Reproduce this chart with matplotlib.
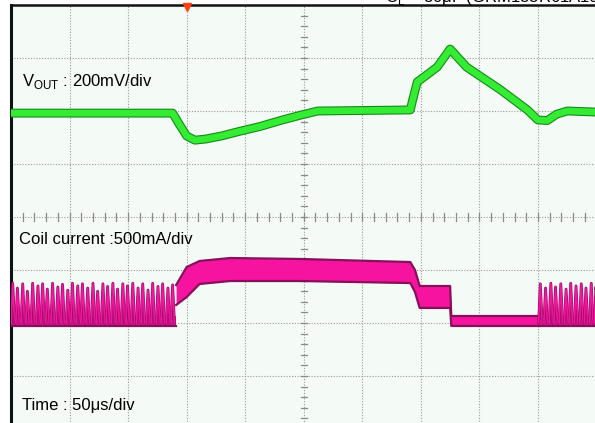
import matplotlib.pyplot as plt
import matplotlib.patheffects as pe

# scope settings
volt_per_div = 200     # mV/div
amp_per_div = 500      # mA/div
time_per_div = 50      # us/div
vout_offset = 1.96     # screen position of V_OUT zero, div
coil_offset = -2.0     # screen position of 0 mA, div

vout_t = [0, 138, 144, 150, 157, 166, 180, 194, 213, 230, 247, 262, 341, 343,
          347, 355, 364, 375, 389, 418, 441, 450, 458, 466, 475, 500]
vout_mv = [0, 0, -44, -86, -102, -98, -86, -70, -50, -28, -8, 8, 12, 50,
           118, 144, 174, 242, 174, 88, 12, -26, -28, -4, 8, 4]

# coil current ripple band (PWM part)
band_t = [141, 150, 161, 187, 247, 341, 345, 349, 375, 376, 451]
band_hi = [358, 528, 585, 613, 604, 575, 500, 349, 349, 66, 66]
band_lo = [170, 245, 368, 396, 396, 377, 292, 142, 142, -28, -28]

# PFM pulses before and after the load step
pulse_t = [1.5, 5.5, 10, 14, 18.5, 23, 27, 31, 35.5, 40, 44, 48.5, 52.5, 57,
           61, 65.5, 70, 74, 78.5, 82.5, 87, 91, 95.5, 99.5, 104, 108.5, 112.5,
           117, 121, 125.5, 129.5, 134, 138,
           452, 456.5, 461, 465, 469.5, 474, 478, 482.5, 487, 491, 495.5, 499.5]
pulse_pk = [375, 330, 370, 300, 375, 350, 370, 320, 375, 340, 365, 310, 375,
            350, 370, 330, 375, 300, 370, 345, 375, 320, 370, 350, 375, 330,
            370, 310, 375, 345, 370, 330, 360,
            370, 330, 375, 340, 370, 320, 375, 350, 370, 330, 375, 340]
pulse_base = [-28, 66]

green = '#33ec33'
green_dk = '#168a16'
pink = '#f5139f'
pink_dk = '#86105a'

fig = plt.figure(figsize=(5.95, 4.23), dpi=100, facecolor='white')
ax = fig.add_axes([11/595, -6/423, 585.5/595, 424/423], facecolor='#f4faf6')
ax.set_xlim(0, 10)
ax.set_ylim(-4, 4)
ax.set_xticks([])
ax.set_yticks([])
for s in ['right', 'bottom']:
    ax.spines[s].set_visible(False)
ax.spines['left'].set_linewidth(2.2)
ax.spines['left'].set_color('#111111')
ax.spines['top'].set_linewidth(1.8)
ax.spines['top'].set_color('#111111')

# graticule
for i in range(1, 10):
    ax.axvline(i, color='#9a9a9a', lw=0.8, ls=(0, (1, 1.5)), zorder=1)
for j in range(-3, 4):
    ax.axhline(j, color='#9a9a9a', lw=0.8, ls=(0, (1, 1.5)), zorder=1)
for k in range(1, 50):
    ax.plot([k/5, k/5], [-0.07, 0.07], color='#8a8a8a', lw=0.9, zorder=1)
for k in range(-19, 20):
    ax.plot([4.95, 5.05], [k/5, k/5], color='#8a8a8a', lw=0.9, zorder=1)

# trigger marker
ax.plot(3.0, 3.97, marker='v', color='#ff4010', ms=6, clip_on=False, zorder=6)

# V_OUT trace
vx = [t / time_per_div for t in vout_t]
vy = [vout_offset + v / volt_per_div for v in vout_mv]
ax.plot(vx, vy, color=green, lw=4.8, solid_joinstyle='round', zorder=4,
        path_effects=[pe.Stroke(linewidth=6.4, foreground=green_dk), pe.Normal()])

# coil current
bx = [t / time_per_div for t in band_t]
bhi = [coil_offset + a / amp_per_div for a in band_hi]
blo = [coil_offset + a / amp_per_div for a in band_lo]
ax.fill_between(bx, blo, bhi, color=pink, lw=0, zorder=3)
ax.plot(bx, bhi, color=pink_dk, lw=1.6, zorder=3)
ax.plot(bx, blo, color=pink_dk, lw=1.6, zorder=3)

for seg in [(0, 141), (451, 500)]:
    sx = [seg[0] / time_per_div, seg[1] / time_per_div]
    ax.fill_between(sx, coil_offset + pulse_base[0] / amp_per_div,
                    coil_offset + pulse_base[1] / amp_per_div, color=pink, lw=0, zorder=3)
    ax.plot(sx, [coil_offset + pulse_base[0] / amp_per_div] * 2, color=pink_dk, lw=1.6, zorder=3)

for t, p in zip(pulse_t, pulse_pk):
    px = [(t - 1.4) / time_per_div, t / time_per_div, (t + 1.6) / time_per_div]
    py = [coil_offset, coil_offset + p / amp_per_div, coil_offset]
    ax.plot(px, py, color=pink_dk, lw=2.0, zorder=3)
    ax.plot(px, py, color=pink, lw=1.2, zorder=3)

# labels
ax.text(0.19, 2.55, 'V$_{\\mathregular{OUT}}$ : 200mV/div', fontsize=12,
        family='Liberation Sans', va='center', zorder=5)
ax.text(0.14, -0.43, 'Coil current :500mA/div', fontsize=12,
        family='Liberation Sans', va='center', zorder=5)
ax.text(0.19, -3.55, 'Time : 50μs/div', fontsize=12,
        family='Liberation Sans', va='center', zorder=5)
fig.text(385/595, 1 - 2/423, 'C$_{\\mathregular{L}}$ = 30μF (GRM188R61A106ME x 3)',
         fontsize=12, family='Liberation Sans', va='baseline')

plt.savefig('out.png', dpi=100)
